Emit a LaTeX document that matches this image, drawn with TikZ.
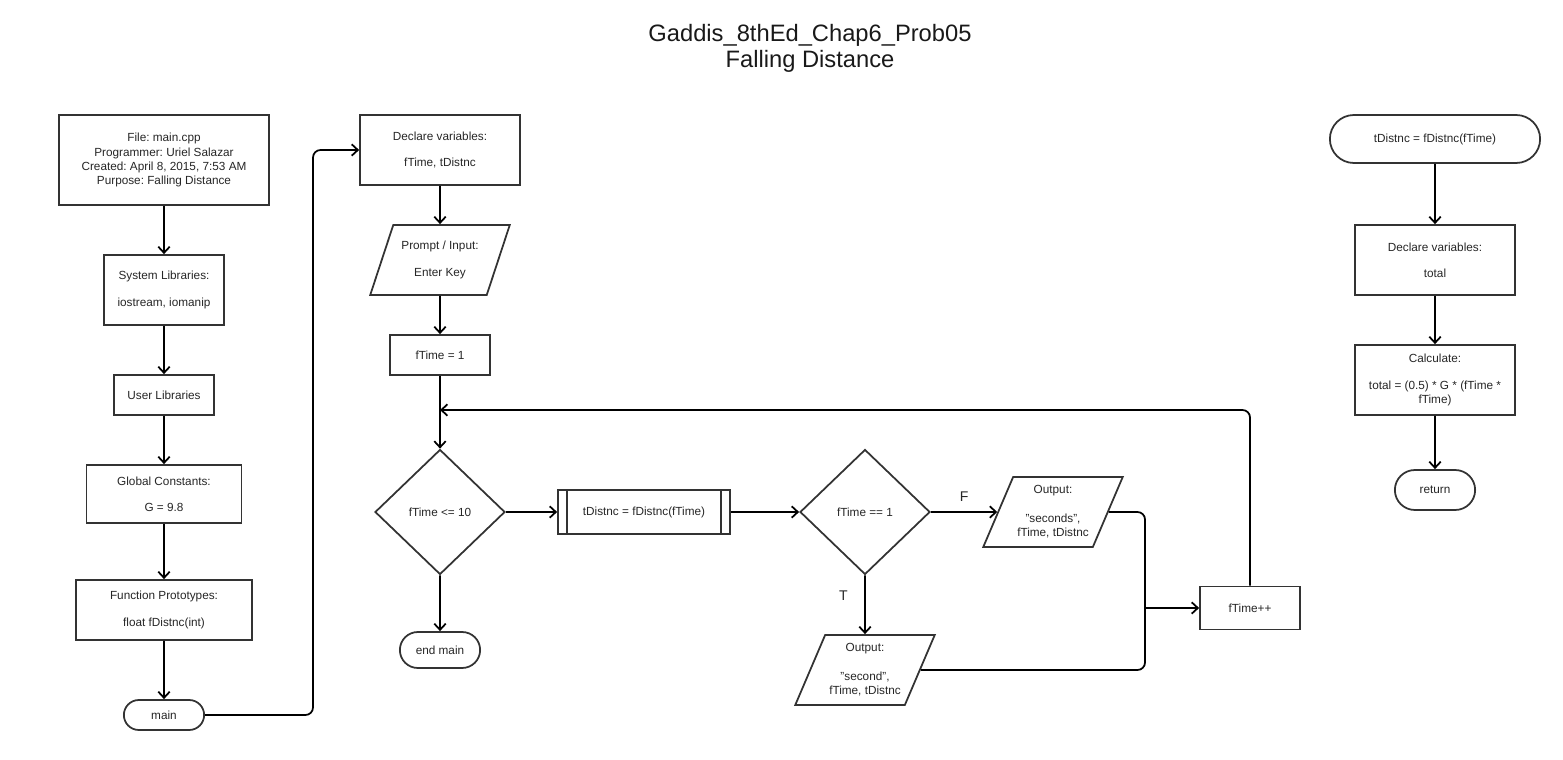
\documentclass[tikz,border=0pt]{standalone}
\usepackage{fontspec}
\setmainfont{Liberation Sans}
\usetikzlibrary{shapes.geometric,shapes.misc,arrows.meta}
\frenchspacing

\begin{document}
\begin{tikzpicture}[x=0.02cm, y=-0.02cm, line width=1pt,
    font=\fontsize{6.7}{8}\selectfont,
    >={Straight Barb[length=3.5pt,width=6.5pt]},
    box/.style={draw=black!80, rectangle, align=center, text=black!85},
    io/.style={box, trapezium, trapezium left angle=63, trapezium right angle=117,
        trapezium stretches=true, minimum width=2.8cm, minimum height=1.4cm, inner sep=0pt},
    decision/.style={box, diamond, minimum width=2.6cm, minimum height=2.5cm, inner sep=0pt},
    term/.style={box, rounded rectangle, minimum width=1.84cm},
    branch/.style={font=\fontsize{8}{9}\selectfont, text=black!85}]
    \useasboundingbox (0,0) rectangle (1563,760);

    \node (title) [align=center, font=\fontsize{13.5}{14.7}\selectfont, text=black!90] at (810,48)
        {Gaddis\_8thEd\_Chap6\_Prob05\\Falling Distance};

    % main program setup
    \node (file) [box, minimum width=4.2cm, minimum height=1.8cm] at (164,160)
        {File: main.cpp\\Programmer: Uriel Salazar\\Created: April 8, 2015, 7:53 AM\\Purpose: Falling Distance};
    \node (syslib) [box, minimum width=2.4cm, minimum height=1.4cm] at (164,290)
        {System Libraries:\\[7pt]iostream, iomanip};
    \node (userlib) [box, minimum width=2cm, minimum height=0.8cm] at (164,395) {User Libraries};
    \node (globals) [box, minimum width=3.1cm, minimum height=1.16cm] at (164,494)
        {Global Constants:\\[7pt]G = 9.8};
    \node (protos) [box, minimum width=3.52cm, minimum height=1.2cm] at (164,610)
        {Function Prototypes:\\[7pt]float fDistnc(int)};
    \node (main) [term, minimum height=0.6cm] at (164,715) {main};

    % main body
    \node (decl) [box, minimum width=3.2cm, minimum height=1.4cm] at (440,150)
        {Declare variables:\\[7pt]fTime, tDistnc};
    \node (prompt) [io] at (440,260) {Prompt / Input:\\[7pt]Enter Key};
    \node (init) [box, minimum width=2cm, minimum height=0.8cm] at (440,355) {fTime = 1};
    \coordinate (loopin) at (440,410);
    \node (test) [decision] at (440,512) {fTime <= 10};
    \node (endmain) [term, minimum height=0.72cm] at (440,650) {end main};
    \node (call) [box, minimum width=3.44cm, minimum height=0.88cm] at (644,512) {tDistnc = fDistnc(fTime)};
    \node (first) [decision] at (865,512) {fTime == 1};
    \node (outS) [io] at (1053,512) {Output:\\[8.4pt]"seconds",\\fTime, tDistnc};
    \node (outT) [io] at (865,670) {Output:\\[8.4pt]"second",\\fTime, tDistnc};
    \coordinate (join) at (1145,608);
    \node (inc) [box, minimum width=2cm, minimum height=0.86cm] at (1250,608) {fTime++};

    % function fDistnc
    \node (func) [term, minimum width=4.44cm, minimum height=0.96cm] at (1435,139) {tDistnc = fDistnc(fTime)};
    \node (decltot) [box, minimum width=3.2cm, minimum height=1.4cm] at (1435,260)
        {Declare variables:\\[7pt]total};
    \node (calc) [box, minimum width=3.2cm, minimum height=1.4cm] at (1435,380)
        {Calculate:\\[7pt]total = (0.5) * G * (fTime *\\fTime)};
    \node (ret) [term, minimum height=0.8cm] at (1435,490) {return};

    \draw[draw=black!80] ([xshift=0.2cm]call.north west) -- ([xshift=0.2cm]call.south west);
    \draw[draw=black!80] ([xshift=-0.2cm]call.north east) -- ([xshift=-0.2cm]call.south east);

    \draw[->] (file) -- (syslib);
    \draw[->] (syslib) -- (userlib);
    \draw[->] (userlib) -- (globals);
    \draw[->] (globals) -- (protos);
    \draw[->] (protos) -- (main);
    \draw[->, rounded corners=0.15cm] (main.east) -- (313,715) |- (decl.west);

    \draw[->] (decl) -- (prompt);
    \draw[->] (prompt) -- (init);
    \draw[->] (init) -- (test);
    \draw[->] (test) -- (endmain);
    \draw[->] (test) -- (call);
    \draw[->] (call) -- (first);
    \draw[->] (first) -- (outS) node[midway, above, yshift=2pt, branch] {F};
    \draw[->] (first) -- (outT) node[pos=0.35, left=6pt, branch] {T};
    \draw[rounded corners=0.15cm] (outS.east) -| (join);
    \draw[rounded corners=0.15cm] (outT.east) -| (join);
    \draw[->] (join) -- (inc);
    \draw[->, rounded corners=0.15cm] (inc.north) |- (loopin);

    \draw[->] (func) -- (decltot);
    \draw[->] (decltot) -- (calc);
    \draw[->] (calc) -- (ret);
\end{tikzpicture}
\end{document}
